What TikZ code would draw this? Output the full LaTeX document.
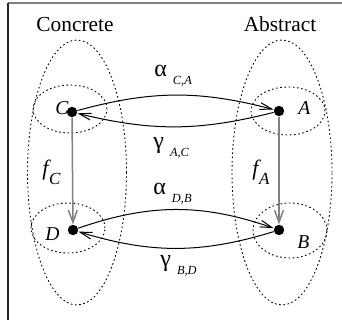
\documentclass[tikz,border=0pt]{standalone}
\usepackage{fontspec}
\setmainfont{Liberation Serif}
\usetikzlibrary{arrows.meta}
% greek map name with its lowered subscript
\newcommand{\maplab}[2]{{\fontsize{12}{12}\selectfont #1}\hspace{3pt}\raisebox{-4pt}{\fontsize{6.2}{6.2}\selectfont\itshape #2}}
\newcommand{\fnlab}[1]{{\fontsize{11}{11}\selectfont\itshape f}\hspace{0.3pt}\raisebox{-4.5pt}{\fontsize{8.5}{8.5}\selectfont\itshape #1}}
\begin{document}
\begin{tikzpicture}[
        x=0.5pt, y=0.5pt,
        dot/.style={
            circle,
            fill=black,
            inner sep=0pt,
            minimum size=5.2pt
        },
        region/.style={
            draw=black,
            line width=0.45pt,
            dash pattern=on 0.8pt off 1.3pt
        },
        title/.style={
            font=\fontsize{10.7}{12}\selectfont,
            anchor=base
        },
        pointlab/.style={
            font=\fontsize{9.8}{11}\selectfont\itshape,
            anchor=base west,
            inner sep=0pt
        },
        maplabel/.style={
            anchor=base west,
            inner sep=0pt
        },
        map/.style={-{Straight Barb[length=6pt,width=3.4pt]}, line width=0.5pt},
        refine/.style={-{Straight Barb[length=6pt,width=4.4pt]}, line width=0.75pt, draw=black!50}
    ]

        \useasboundingbox (0,0) rectangle (342,-320);
        \draw[line width=0.8pt, black!50] (8,-3) -- (342,-3);
        \draw[line width=0.8pt, black!85] (8,-3) -- (8,-320);

        \node[title] (concrete) at (75,-32) {Concrete};
        \node[title] (abstract) at (280,-32) {Abstract};

        % domains
        \draw[region] (77,-172.5) ellipse [x radius=49.5, y radius=132.5];
        \draw[region] (282,-172.5) ellipse [x radius=50, y radius=132.5];
        \draw[region] (70,-109) ellipse [x radius=37, y radius=24];
        \draw[region] (288,-111) ellipse [x radius=37, y radius=24];
        \draw[region] (68,-228) ellipse [x radius=37, y radius=25];
        \draw[region] (290,-230.5) ellipse [x radius=37, y radius=27.5];

        \node[dot] (C) at (72,-112) {};
        \node[dot] (A) at (279,-111) {};
        \node[dot] (D) at (73,-230) {};
        \node[dot] (B) at (279,-230) {};

        \node[pointlab] (Clab) at (55,-115) {C};
        \node[pointlab] (Alab) at (298,-115) {A};
        \node[pointlab] (Dlab) at (45,-241) {D};
        \node[pointlab] (Blab) at (297,-248) {B};

        \draw[refine] (C) -- (D);
        \draw[refine] (A) -- (B);
        \draw[map] (C) to[bend left=15] (A);
        \draw[map] (A) to[bend left=14] (C);
        \draw[map] (D) to[bend left=19] (B);
        \draw[map] (B) to[bend left=17] (D);

        \node[maplabel] (fC) at (42,-176) {\fnlab{C}};
        \node[maplabel] (fA) at (252,-176) {\fnlab{A}};
        \node[maplabel] (aCA) at (154,-77) {\maplab{α}{C,A}};
        \node[maplabel] (gAC) at (153,-149) {\maplab{γ}{A,C}};
        \node[maplabel] (aDB) at (153,-195) {\maplab{α}{D,B}};
        \node[maplabel] (gBD) at (160,-266) {\maplab{γ}{B,D}};

    \end{tikzpicture}
\end{document}
